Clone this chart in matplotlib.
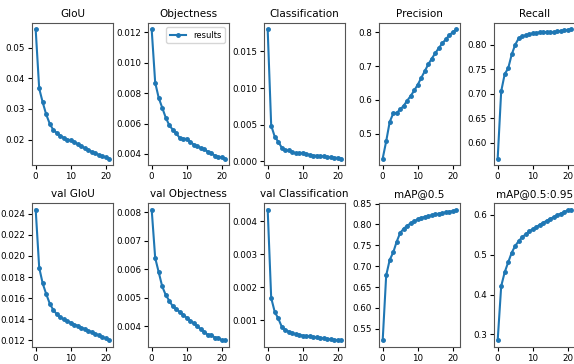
import matplotlib
matplotlib.use("Agg")
import matplotlib.pyplot as plt
import numpy as np

epochs = list(range(22))

titles = ["GIoU", "Objectness", "Classification", "Precision", "Recall",
          "val GIoU", "val Objectness", "val Classification", "mAP@0.5", "mAP@0.5:0.95"]

giou = [0.056, 0.0367, 0.0322, 0.0282, 0.0252, 0.0232, 0.0222, 0.0213, 0.0206, 0.0200, 0.0198,
        0.0192, 0.0185, 0.0178, 0.0172, 0.0167, 0.0160, 0.0155, 0.0150, 0.0145, 0.0142, 0.0138]
objectness = [0.0122, 0.0087, 0.0077, 0.00705, 0.0064, 0.0059, 0.0056, 0.00535, 0.00506, 0.0050, 0.0050,
              0.0048, 0.00462, 0.0045, 0.0044, 0.0043, 0.00416, 0.00405, 0.0039, 0.0038, 0.00378, 0.0037]
classification = [0.018, 0.0049, 0.0034, 0.0027, 0.0019, 0.0015, 0.0015, 0.0013, 0.0011, 0.0011, 0.0012,
                  0.0010, 0.0009, 0.0008, 0.0008, 0.0007, 0.0007, 0.0006, 0.0006, 0.0005, 0.0005, 0.0004]
precision = [0.427, 0.478, 0.535, 0.560, 0.562, 0.572, 0.583, 0.598, 0.612, 0.628, 0.645,
             0.665, 0.685, 0.705, 0.722, 0.738, 0.753, 0.767, 0.779, 0.791, 0.800, 0.808]
recall = [0.568, 0.705, 0.740, 0.752, 0.780, 0.800, 0.813, 0.817, 0.819, 0.821, 0.823,
          0.824, 0.825, 0.826, 0.825, 0.825, 0.825, 0.827, 0.828, 0.829, 0.830, 0.831]
val_giou = [0.0244, 0.0189, 0.0174, 0.0164, 0.0155, 0.0149, 0.0145, 0.0142, 0.0140, 0.0138, 0.0137,
            0.0135, 0.0134, 0.0132, 0.0131, 0.0129, 0.0128, 0.0126, 0.0125, 0.0123, 0.0122, 0.0120]
val_objectness = [0.0081, 0.0064, 0.0059, 0.0054, 0.0051, 0.0049, 0.0047, 0.0046, 0.0045, 0.0044, 0.0043,
                  0.0042, 0.0041, 0.0040, 0.0039, 0.0038, 0.0037, 0.0037, 0.0036, 0.0036, 0.0035, 0.0035]
val_classification = [0.00435, 0.00167, 0.00125, 0.00105, 0.00080, 0.00070, 0.00065, 0.00060, 0.00057, 0.00055, 0.00053,
                      0.00051, 0.00050, 0.00048, 0.00047, 0.00046, 0.00044, 0.00043, 0.00041, 0.00040, 0.00039, 0.00038]
map50 = [0.522, 0.678, 0.715, 0.733, 0.759, 0.780, 0.790, 0.797, 0.803, 0.808, 0.812,
         0.816, 0.818, 0.820, 0.822, 0.824, 0.826, 0.827, 0.829, 0.831, 0.832, 0.834]
map5095 = [0.285, 0.421, 0.456, 0.481, 0.505, 0.522, 0.534, 0.544, 0.551, 0.558, 0.564,
           0.569, 0.575, 0.580, 0.585, 0.590, 0.594, 0.599, 0.603, 0.607, 0.611, 0.613]

series = [giou, objectness, classification, precision, recall,
          val_giou, val_objectness, val_classification, map50, map5095]

yticks = [
    [0.02, 0.03, 0.04, 0.05],
    [0.004, 0.006, 0.008, 0.010, 0.012],
    [0.000, 0.005, 0.010, 0.015],
    [0.5, 0.6, 0.7, 0.8],
    [0.60, 0.65, 0.70, 0.75, 0.80],
    [0.012, 0.014, 0.016, 0.018, 0.020, 0.022, 0.024],
    [0.004, 0.005, 0.006, 0.007, 0.008],
    [0.001, 0.002, 0.003, 0.004],
    [0.55, 0.60, 0.65, 0.70, 0.75, 0.80, 0.85],
    [0.3, 0.4, 0.5, 0.6],
]
ytick_fmt = ["%.2f", "%.3f", "%.3f", "%.1f", "%.2f", "%.3f", "%.3f", "%.3f", "%.2f", "%.1f"]
xticks = [0, 10, 20]

W, H = 574, 364
fig = plt.figure(figsize=(W / 100, H / 100), dpi=100)
lefts = [32, 148, 264, 379, 494]
axw = 81
rows = [(23, 165), (203, 347)]

for i, (title, ys) in enumerate(zip(titles, series)):
    r, c = divmod(i, 5)
    top, bot = rows[r]
    ax = fig.add_axes([lefts[c] / W, (H - bot) / H, axw / W, (bot - top) / H])
    ax.plot(epochs, ys, marker='.', linewidth=1.5, markersize=5, color='#1f77b4', label='results')
    ax.set_title(title, fontsize=7.5, pad=4)
    ax.tick_params(labelsize=6.3, length=3, pad=2)
    ax.set_xticks(xticks)
    lo, hi = ax.get_ylim()
    ax.set_yticks(yticks[i])
    ax.set_yticklabels([ytick_fmt[i] % v for v in yticks[i]])
    if title == "mAP@0.5":
        hi = max(hi, 0.8515)
    ax.set_ylim(lo, hi)
    for s in ax.spines.values():
        s.set_color('#555555')
    if title == "Objectness":
        ax.legend(fontsize=6, loc='upper right', handlelength=2)

fig.savefig("out.png", dpi=100)
